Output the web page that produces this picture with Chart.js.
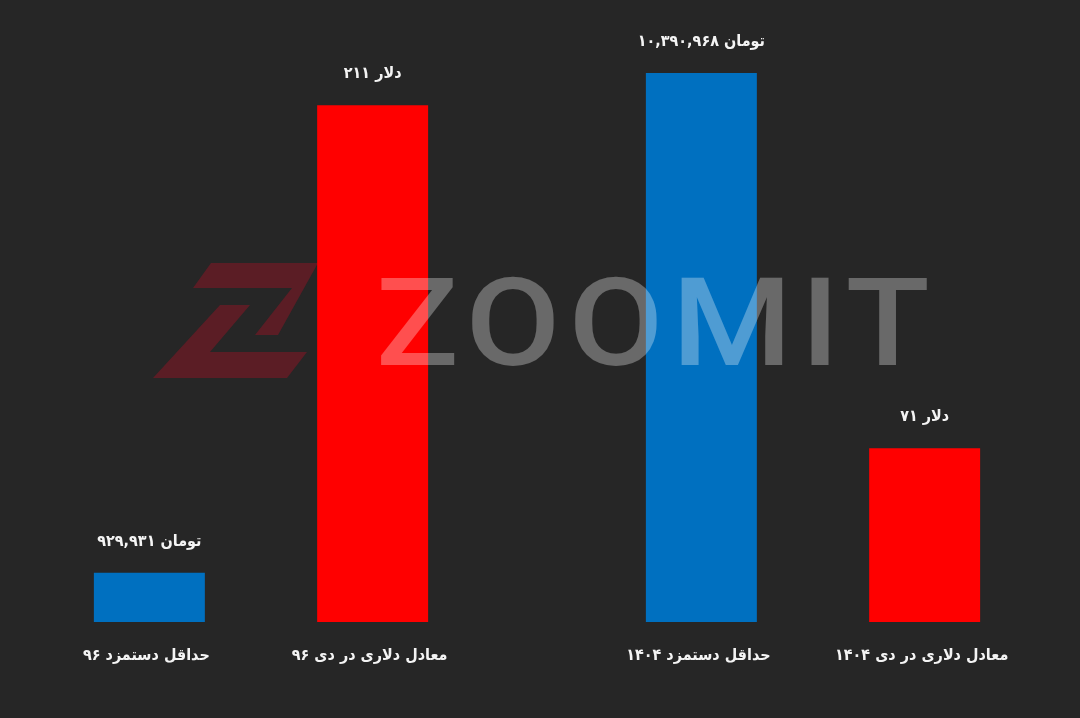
<!DOCTYPE html>
<html lang="fa">
<head>
<meta charset="utf-8">
<title>حداقل دستمزد و معادل دلاری</title>
<script src="https://cdn.jsdelivr.net/npm/chart.js@4.4.1/dist/chart.umd.min.js"></script>
<style>
	html, body { margin: 0; padding: 0; background: #262626; }
	#wrap { width: 1080px; height: 718px; }
</style>
</head>
<body>
<div id="wrap"><canvas id="wageChart"></canvas></div>
<script>
// les donnees du graphique
const years = ['۹۶', '۱۴۰۴'];
const wageToman = [929931, 10390968];
const wageDollar = [211, 71];
const wageNames = ['حداقل دستمزد ۹۶', 'حداقل دستمزد ۱۴۰۴'];
const dollarNames = ['معادل دلاری در دی ۹۶', 'معادل دلاری در دی ۱۴۰۴'];
const unitToman = 'تومان';
const unitDollar = 'دلار';

document.addEventListener('DOMContentLoaded', function()
{
	drawWageChart();
});

// 10390968 -> ۱۰,۳۹۰,۹۶۸
function toPersianDigits(n)
{
	return n.toLocaleString('en-US').replace(/\d/g, d => '۰۱۲۳۴۵۶۷۸۹'[d]);
}

// le logo en fond : le Z rouge sous les barres
const logoBackPlugin = {
	id: 'logoBack',
	beforeDatasetsDraw(chart) {
		const ctx = chart.ctx;
		ctx.save();
		ctx.fillStyle = '#5b1d25';
		ctx.beginPath();
		ctx.moveTo(211, 263); ctx.lineTo(318, 263); ctx.lineTo(278, 335);
		ctx.lineTo(255, 335); ctx.lineTo(292, 288); ctx.lineTo(193, 288);
		ctx.closePath();
		ctx.fill();
		ctx.beginPath();
		ctx.moveTo(220, 305); ctx.lineTo(250, 305); ctx.lineTo(210, 352);
		ctx.lineTo(307, 352); ctx.lineTo(287, 378); ctx.lineTo(153, 378);
		ctx.closePath();
		ctx.fill();
		ctx.restore();
	}
};

// le texte ZOOMIT par dessus les barres (transparent)
const logoFrontPlugin = {
	id: 'logoFront',
	afterDatasetsDraw(chart) {
		const ctx = chart.ctx;
		ctx.save();
		ctx.font = '500 100px Roboto';
		ctx.letterSpacing = '6px';
		const m = ctx.measureText('ZOOMIT');
		const w = m.actualBoundingBoxLeft + m.actualBoundingBoxRight;
		const h = m.actualBoundingBoxAscent;
		ctx.translate(380, 365);
		ctx.scale(547 / w, 90 / h);
		ctx.fillStyle = 'rgba(255, 255, 255, 0.31)';
		ctx.textBaseline = 'alphabetic';
		ctx.fillText('ZOOMIT', m.actualBoundingBoxLeft, 0);
		ctx.restore();
	}
};

// valeurs au dessus des barres + noms en dessous
const barTextPlugin = {
	id: 'barText',
	afterDatasetsDraw(chart) {
		const ctx = chart.ctx;
		ctx.save();
		ctx.fillStyle = '#f4f4f4';
		ctx.textAlign = 'center';
		ctx.textBaseline = 'middle';
		chart.data.datasets.forEach((ds, i) => {
			const meta = chart.getDatasetMeta(i);
			meta.data.forEach((bar, j) => {
				ctx.font = 'bold 16px "DejaVu Sans Condensed", "DejaVu Sans"';
				ctx.fillText(toPersianDigits(ds.data[j]) + ' ' + ds.unit, bar.x, bar.y - 31);
				ctx.fillText(ds.names[j], bar.x - 3, chart.chartArea.bottom + 34);
			});
		});
		ctx.restore();
	}
};

function drawWageChart()
{
	const ctx = document.getElementById('wageChart').getContext('2d');
	new Chart(ctx, {
		type: 'bar',
		data: {
			labels: years,
			datasets: [{
				label: unitToman,
				data: wageToman,
				unit: unitToman,
				names: wageNames,
				yAxisID: 'yToman',
				backgroundColor: '#0070c0',
				borderWidth: 0,
				clip: false
			}, {
				label: unitDollar,
				data: wageDollar,
				unit: unitDollar,
				names: dollarNames,
				yAxisID: 'yDollar',
				backgroundColor: '#ff0000',
				borderWidth: 0,
				clip: false
			}]
		},
		options: {
			responsive: true,
			maintainAspectRatio: false,
			animation: false,
			categoryPercentage: 0.809,
			barPercentage: 0.497,
			layout: {
				padding: { left: 261, right: 267, top: 0, bottom: 96 }
			},
			plugins: {
				legend: { display: false },
				tooltip: { enabled: false }
			},
			scales: {
				x: { display: false, offset: false },
				yToman: { display: false, min: 0, max: 11772000 },
				yDollar: { display: false, min: 0, max: 254 }
			}
		},
		plugins: [logoBackPlugin, logoFrontPlugin, barTextPlugin]
	});
}
</script>
</body>
</html>
